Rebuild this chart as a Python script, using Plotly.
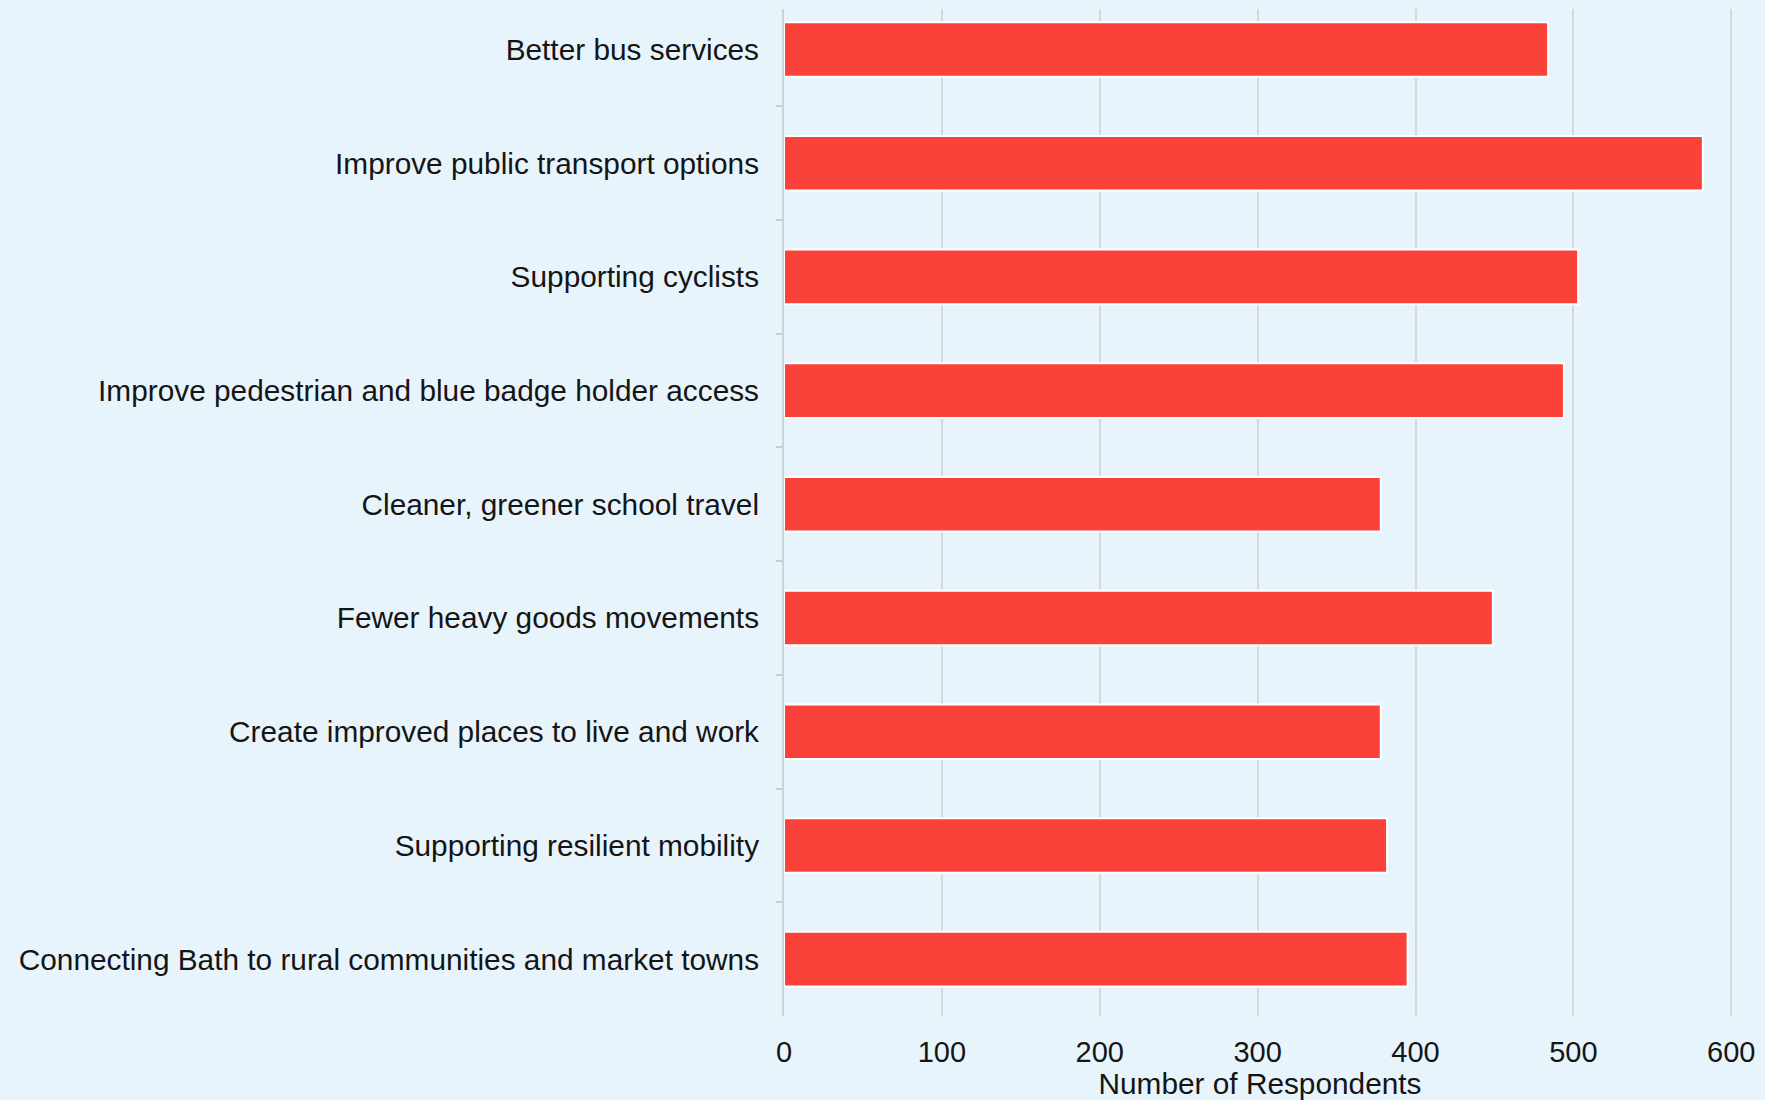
import plotly.graph_objects as go

categories = [
    "Better bus services",
    "Improve public transport options",
    "Supporting cyclists",
    "Improve pedestrian and blue badge holder access",
    "Cleaner, greener school travel",
    "Fewer heavy goods movements",
    "Create improved places to live and work",
    "Supporting resilient mobility",
    "Connecting Bath to rural communities and market towns",
]
respondents = [484, 582, 503, 494, 378, 449, 378, 382, 395]
x_ticks = [0, 100, 200, 300, 400, 500, 600]

BG = "#E8F4FC"
FONT = "Liberation Sans, Arial, sans-serif"

fig = go.Figure(
    go.Bar(
        x=respondents,
        y=categories,
        orientation="h",
        width=0.48,
        marker=dict(color="#FA423A", line=dict(color="white", width=2)),
    )
)

fig.update_layout(
    width=1765,
    height=1100,
    paper_bgcolor=BG,
    plot_bgcolor=BG,
    margin=dict(l=784, r=29, t=9, b=84),
    font=dict(family=FONT, size=29.8, color="#151515"),
    showlegend=False,
    xaxis=dict(
        range=[0, 603],
        tickvals=x_ticks,
        showgrid=True,
        gridcolor="#D6D9DC",
        gridwidth=2,
        zeroline=False,
        showline=False,
        ticks="",
        ticklabelstandoff=16,
        tickfont=dict(size=29),
        title=dict(text="Number of Respondents", standoff=2, font=dict(size=29.8)),
    ),
    yaxis=dict(
        type="category",
        categoryorder="array",
        categoryarray=categories,
        range=[8.5, -0.356],
        showgrid=False,
        zeroline=False,
        showline=True,
        linecolor="#D0D3D6",
        linewidth=2,
        ticks="outside",
        tickson="boundaries",
        ticklen=6,
        tickcolor="#C8CBCE",
        tickwidth=2,
        ticklabelstandoff=17,
    ),
)

fig.write_html(
    "out.html",
    config={"displayModeBar": False},
    post_script="document.body.style.margin='0px';document.body.style.padding='0px';",
)
